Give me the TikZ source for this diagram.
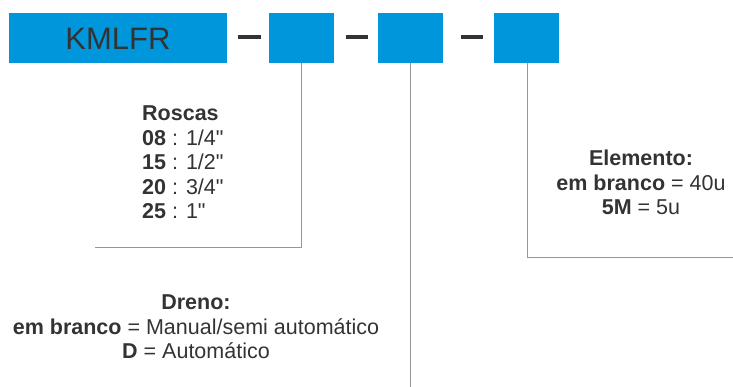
\documentclass[tikz,border=0pt]{standalone}
\usepackage{fontspec}
\setmainfont{Liberation Sans}[Ligatures=TeXOff]
\definecolor{kblue}{RGB}{0,150,219}
\definecolor{ktext}{RGB}{51,51,51}
\definecolor{kline}{RGB}{150,150,150}
\tikzset{
  codebox/.style={fill=kblue, draw=none, inner sep=0pt},
  sepdash/.style={draw=ktext, line width=4pt},
  leader/.style={draw=kline, line width=1pt},
  desc/.style={text=ktext, font=\fontsize{21.5}{24.5}\selectfont, inner sep=0pt, align=center},
}
\begin{document}
\begin{tikzpicture}[x=1pt,y=-1pt]
\useasboundingbox (0,0) rectangle (733,387);
% boxes
\path[codebox] (9,13) rectangle (227,63);
\node[text=ktext, font=\fontsize{31}{31}\selectfont, inner sep=0pt] (main) at (118,39) {KMLFR};
\path[codebox] (269,13) rectangle (334,63);
\path[codebox] (378,13) rectangle (443,63);
\path[codebox] (494,13) rectangle (559,63);
\coordinate (b2) at (301,63);
\coordinate (b3) at (410,63);
\coordinate (b4) at (527,63);
% dashes
\coordinate (d1a) at (238,37.5); \coordinate (d1b) at (261,37.5);
\coordinate (d2a) at (346,37.5); \coordinate (d2b) at (368,37.5);
\coordinate (d3a) at (461,37.5); \coordinate (d3b) at (483,37.5);
\draw[sepdash] (d1a) -- (d1b);
\draw[sepdash] (d2a) -- (d2b);
\draw[sepdash] (d3a) -- (d3b);
% leaders
\coordinate (c2) at (301,248);
\coordinate (e2) at (95,248);
\coordinate (e3) at (410,387);
\coordinate (c4) at (527,258);
\coordinate (e4) at (733,258);
\draw[leader] (b2) -- (c2) -- (e2);
\draw[leader] (b3) -- (e3);
\draw[leader] (b4) -- (c4) -- (e4);
% texts
\node[desc, align=left, anchor=north west] (roscas) at (142,106)
 {\textbf{Roscas}\\\textbf{08} : 1/4"\\\textbf{15} : 1/2"\\\textbf{20} : 3/4"\\\textbf{25} : 1"};
\node[desc, anchor=north] (dreno) at (196,295)
 {\textbf{Dreno:}\\\textbf{em branco} = Manual/semi automático\\\textbf{D} = Automático};
\node[desc, anchor=north] (elem) at (641,150)
 {\textbf{Elemento:}\\\textbf{em branco} = 40u\\\textbf{5M} = 5u};
\end{tikzpicture}
\end{document}
